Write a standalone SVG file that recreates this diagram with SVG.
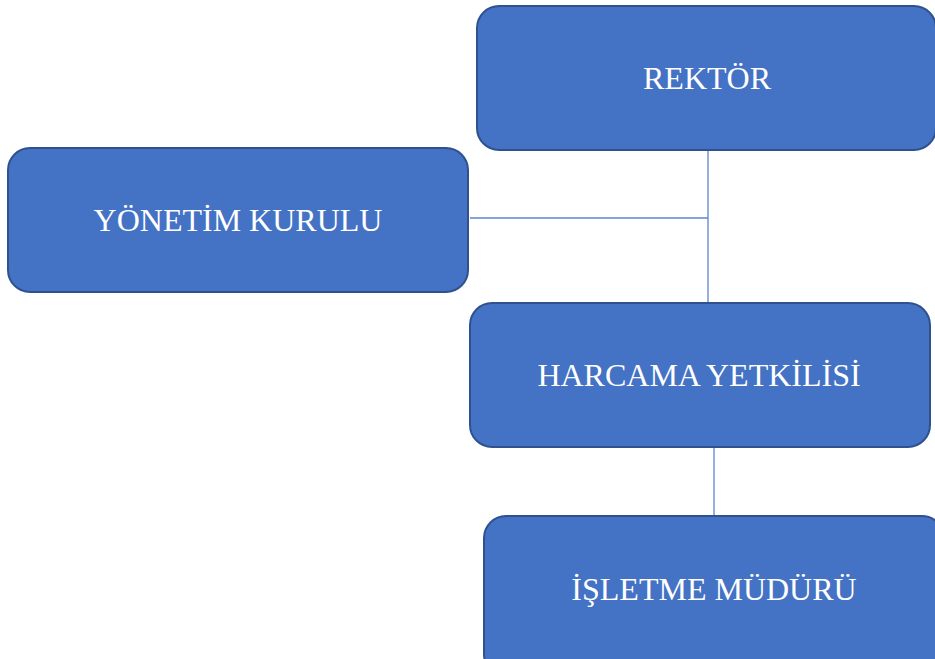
<svg xmlns="http://www.w3.org/2000/svg" width="935" height="659" viewBox="0 0 935 659">
<style>
.box{fill:#4472C4;stroke:#2F528F;stroke-width:2}
.lbl{fill:#FFFFFF;font-family:"Liberation Serif","Times New Roman",serif;font-size:32px;text-anchor:middle}
.con{stroke:#5B84CF;stroke-width:1.3;fill:none}
</style>
<rect width="935" height="659" fill="#FFFFFF"/>
<g id="connectors">
<line class="con" x1="708" y1="150" x2="708" y2="302"/>
<line class="con" x1="470" y1="218" x2="708" y2="218"/>
<line class="con" x1="714" y1="447" x2="714" y2="516"/>
</g>
<g id="rektor">
<rect class="box" x="477" y="6" width="459" height="144" rx="22"/>
<text class="lbl" x="707" y="89">REKTÖR</text>
</g>
<g id="yonetim">
<rect class="box" x="8" y="148" width="460" height="144" rx="22"/>
<text class="lbl" x="238" y="231">YÖNETİM KURULU</text>
</g>
<g id="harcama">
<rect class="box" x="470" y="303" width="460" height="144" rx="22"/>
<text class="lbl" x="699" y="386">HARCAMA YETKİLİSİ</text>
</g>
<g id="isletme">
<rect class="box" x="484" y="516" width="460" height="160" rx="22"/>
<text class="lbl" x="714" y="600">İŞLETME MÜDÜRÜ</text>
</g>
</svg>
